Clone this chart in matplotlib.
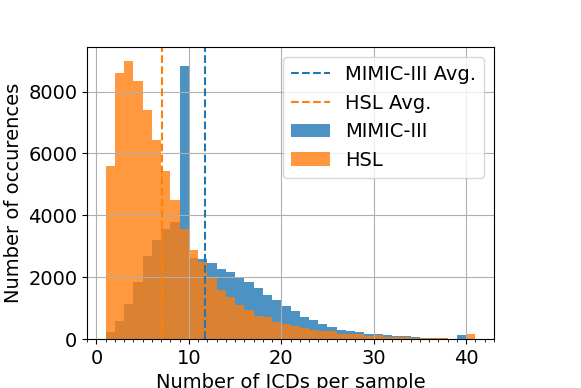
import matplotlib
matplotlib.use("Agg")
import matplotlib.pyplot as plt
from matplotlib.ticker import MultipleLocator

# counts per number of ICD codes (bin [k, k+1))
n_icds = list(range(1, 41))
mimic = [215, 580, 1130, 1830, 2680, 3190, 3570, 3790, 8840, 2635,
         2600, 2470, 2280, 2170, 1960, 1830, 1665, 1430, 1260, 1065,
         910, 720, 610, 480, 400, 310, 270, 235, 180, 180,
         130, 105, 85, 55, 50, 40, 25, 15, 120, 0]
hsl = [5600, 8600, 8980, 8350, 7410, 6420, 5420, 4500, 3550, 2870,
       2495, 1960, 1580, 1345, 1100, 935, 740, 700, 560, 480,
       420, 345, 310, 260, 260, 180, 180, 150, 100, 120,
       75, 75, 55, 50, 40, 35, 25, 15, 15, 180]
mimic_avg = 11.7
hsl_avg = 7.1

edges = list(range(1, 42))

fig = plt.figure(figsize=(5.81, 3.88), dpi=100)
ax = fig.add_axes([0.150, 0.126, 0.700, 0.752])

_, _, p1 = ax.hist(n_icds, bins=edges, weights=mimic, color="tab:blue", alpha=0.8, label="MIMIC-III")
_, _, p2 = ax.hist(n_icds, bins=edges, weights=hsl, color="tab:orange", alpha=0.8, label="HSL")
l1 = ax.axvline(mimic_avg, color="tab:blue", ls="--", label="MIMIC-III Avg.")
l2 = ax.axvline(hsl_avg, color="tab:orange", ls="--", label="HSL Avg.")

ax.xaxis.set_minor_locator(MultipleLocator(1))
ax.set_yticks([0, 2000, 4000, 6000, 8000])
ax.grid(True, which="major")
ax.tick_params(labelsize=14)
ax.set_xlabel("Number of ICDs per sample", fontsize=14)
ax.set_ylabel("Number of occurences", fontsize=14)
ax.legend(handles=[l1, l2, p1[0], p2[0]], loc="upper right", fontsize=14)

fig.savefig("out.png", dpi=100)
